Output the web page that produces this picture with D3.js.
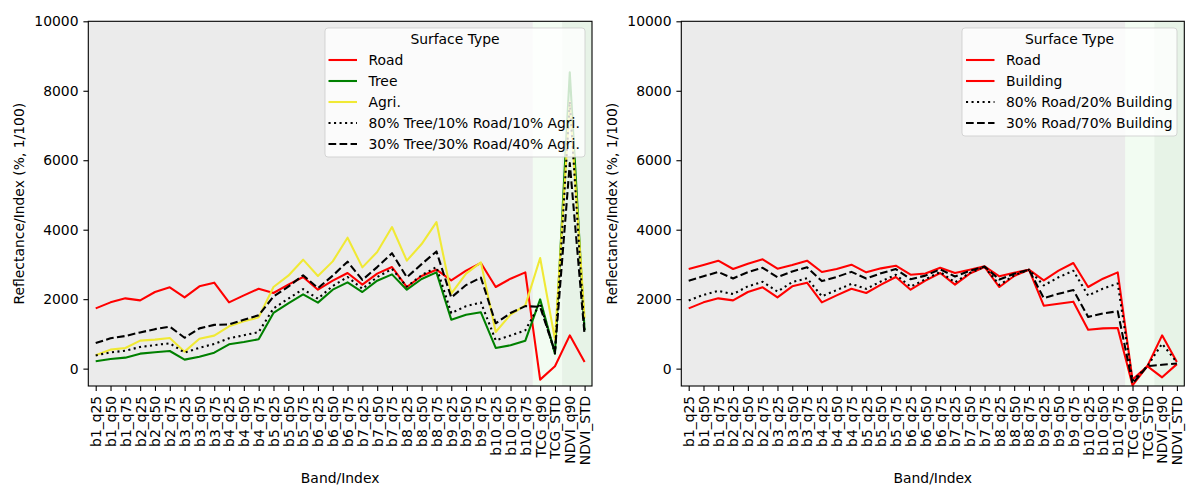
<!DOCTYPE html>
<html>
<head>
<meta charset="utf-8">
<script src="https://cdn.jsdelivr.net/npm/d3@7/dist/d3.min.js"></script>
<style>
  html, body { margin: 0; padding: 0; background: #ffffff; }
  svg { display: block; font-family: "DejaVu Sans", sans-serif; }
</style>
</head>
<body>
<svg id="chart" width="1200" height="500"></svg>
<script>
const categories = ["b1_q25","b1_q50","b1_q75","b2_q25","b2_q50","b2_q75","b3_q25","b3_q50","b3_q75",
  "b4_q25","b4_q50","b4_q75","b5_q25","b5_q50","b5_q75","b6_q25","b6_q50","b6_q75",
  "b7_q25","b7_q50","b7_q75","b8_q25","b8_q50","b8_q75","b9_q25","b9_q50","b9_q75",
  "b10_q25","b10_q50","b10_q75","TCG_q90","TCG_STD","NDVI_q90","NDVI_STD"];

const roadValues = [1735,1908,2023,1966,2206,2340,2053,2369,2475,1908,2110,2302,2178,2417,2638,2273,2532,2753,
  2417,2734,2926,2350,2667,2849,2542,2820,3040,2350,2590,2772,-317,67,959,192];
const treeValues = [211,279,316,432,470,508,259,345,460,700,767,844,1602,1880,2139,1900,2273,2484,
  2206,2532,2714,2273,2580,2772,1410,1554,1621,595,671,806,1994,432,8530,1100];
const agriValues = [384,547,595,806,835,883,489,863,950,1218,1362,1477,2350,2676,3137,2667,3088,3770,
  2916,3358,4077,3108,3587,4220,2158,2734,3060,1055,1554,1820,3185,835,7680,1450];
const tree80Values = [381,469,515,623,680,729,461,599,711,873,961,1053,1734,2013,2289,2014,2380,2639,
  2298,2635,2871,2364,2689,2925,1598,1799,1907,817,951,1104,1882,436,7688,1044];
const tree30Values = [737,875,940,1042,1137,1208,889,1159,1260,1270,1408,1535,2074,2359,2688,2319,2677,3079,
  2553,2923,3323,2630,3009,3374,2049,2406,2622,1306,1600,1801,1777,484,5919,968];

const buildingValues = [2868,2983,3108,2868,3022,3146,2878,2983,3108,2782,2868,2993,2772,2887,2964,2705,2740,2905,
  2753,2850,2945,2657,2760,2849,1813,1870,1928,1122,1160,1170,-480,70,-250,130];
const road80Values = [1962,2123,2240,2146,2369,2501,2218,2492,2602,2083,2262,2440,2297,2511,2703,2359,2574,2783,
  2484,2757,2930,2411,2686,2849,2396,2630,2818,2104,2304,2452,-350,68,717,180];
const road30Values = [2528,2660,2783,2597,2777,2904,2631,2799,2918,2520,2641,2786,2594,2746,2866,2575,2678,2859,
  2652,2815,2939,2565,2732,2849,2032,2155,2262,1490,1589,1651,-431,69,113,149];

const yTicks = [0, 2000, 4000, 6000, 8000, 10000];
const yDomain = [-500, 10000];
const shadedSpans = [
  { from: "TCG_q90", to: "TCG_STD", color: "#f2fcf2" },
  { from: "NDVI_q90", to: "NDVI_STD", color: "#e7f3e7" }
];

const DOT = "2.08,3.44";
const DASH = "7.7,3.33";
const leftSeries = [
  { name: "Road", values: roadValues, color: "#ff0000", dash: null },
  { name: "Tree", values: treeValues, color: "#008000", dash: null },
  { name: "Agri.", values: agriValues, color: "#f0e935", dash: null },
  { name: "80% Tree/10% Road/10% Agri.", values: tree80Values, color: "#000000", dash: DOT },
  { name: "30% Tree/30% Road/40% Agri.", values: tree30Values, color: "#000000", dash: DASH }
];
const rightSeries = [
  { name: "Road", values: roadValues, color: "#ff0000", dash: null },
  { name: "Building", values: buildingValues, color: "#ff0000", dash: null },
  { name: "80% Road/20% Building", values: road80Values, color: "#000000", dash: DOT },
  { name: "30% Road/70% Building", values: road30Values, color: "#000000", dash: DASH }
];

const svg = d3.select("#chart");
const FS = 13.9;
const LW = 2.08;

function drawPanel(id, left, right, top, bottom, series, legend) {
  const g = svg.append("g");
  const x = d3.scalePoint().domain(categories).range([left, right]).padding(0.5);
  const y = d3.scaleLinear().domain(yDomain).range([bottom, top]);
  const step = x.step();

  g.append("rect").attr("x", left).attr("y", top).attr("width", right - left).attr("height", bottom - top)
    .attr("fill", "#ebebeb");

  const clipId = "clip-" + id;
  svg.append("defs").append("clipPath").attr("id", clipId)
    .append("rect").attr("x", left).attr("y", top).attr("width", right - left).attr("height", bottom - top);

  shadedSpans.forEach(s => {
    const x0 = x(s.from) - step / 2, x1 = x(s.to) + step / 2;
    g.append("rect").attr("x", x0).attr("y", top).attr("width", x1 - x0).attr("height", bottom - top)
      .attr("fill", s.color).attr("clip-path", `url(#${clipId})`);
  });

  const line = d3.line().x((d, i) => x(categories[i])).y(d => y(d));
  const lg = g.append("g").attr("clip-path", `url(#${clipId})`);
  series.forEach(s => {
    lg.append("path").datum(s.values).attr("d", line)
      .attr("fill", "none").attr("stroke", s.color).attr("stroke-width", LW)
      .attr("stroke-dasharray", s.dash).attr("stroke-linejoin", "round");
  });

  const xAxis = g.append("g").attr("transform", `translate(0,${bottom})`)
    .call(d3.axisBottom(x).tickSize(4.9).tickPadding(4.9));
  xAxis.select(".domain").remove();
  xAxis.selectAll("line").attr("stroke", "#000").attr("stroke-width", 1.1);
  xAxis.selectAll("text")
    .attr("font-size", FS).attr("fill", "#000")
    .attr("font-family", "DejaVu Sans")
    .attr("transform", "rotate(-90)")
    .attr("text-anchor", "end")
    .attr("x", -9.8).attr("y", 0).attr("dy", "0.35em");

  const yAxis = g.append("g").attr("transform", `translate(${left},0)`)
    .call(d3.axisLeft(y).tickValues(yTicks).tickSize(4.9).tickPadding(4.9).tickFormat(d3.format("d")));
  yAxis.select(".domain").remove();
  yAxis.selectAll("line").attr("stroke", "#000").attr("stroke-width", 1.1);
  yAxis.selectAll("text").attr("font-size", FS).attr("fill", "#000").attr("font-family", "DejaVu Sans");

  g.append("rect").attr("x", left).attr("y", top).attr("width", right - left).attr("height", bottom - top)
    .attr("fill", "none").attr("stroke", "#000").attr("stroke-width", 1.1);

  g.append("text").attr("x", (left + right) / 2).attr("y", 483).attr("text-anchor", "middle")
    .attr("font-size", FS).attr("fill", "#000").text("Band/Index");
  g.append("text").attr("transform", `translate(${left - 64},${(top + bottom) / 2}) rotate(-90)`)
    .attr("text-anchor", "middle").attr("font-size", FS).attr("fill", "#000")
    .text("Reflectance/Index (%, 1/100)");

  const L = legend;
  const lgd = g.append("g");
  lgd.append("rect").attr("x", L.x0).attr("y", L.y0).attr("width", L.x1 - L.x0).attr("height", L.y1 - L.y0)
    .attr("rx", 3).attr("fill", "#ffffff").attr("fill-opacity", 0.8)
    .attr("stroke", "#cccccc").attr("stroke-opacity", 0.8).attr("stroke-width", 1);
  lgd.append("text").attr("x", (L.x0 + L.x1) / 2).attr("y", L.y0 + 11).attr("dy", "0.35em")
    .attr("text-anchor", "middle").attr("font-size", FS).attr("fill", "#000").text("Surface Type");
  series.forEach((s, i) => {
    const yy = L.y0 + 32 + i * 21;
    lgd.append("line").attr("x1", L.hx).attr("x2", L.hx + 28.5).attr("y1", yy).attr("y2", yy)
      .attr("stroke", s.color).attr("stroke-width", LW).attr("stroke-dasharray", s.dash);
    lgd.append("text").attr("x", L.hx + 40).attr("y", yy).attr("dy", "0.35em")
      .attr("font-size", FS).attr("fill", "#000").text(s.name);
  });
}

drawPanel("left", 88.3, 592, 21.3, 386, leftSeries, { x0: 325, x1: 585, y0: 28, y1: 157, hx: 328.5 });
drawPanel("right", 681.3, 1184.3, 21.3, 386, rightSeries, { x0: 962, x1: 1177, y0: 28, y1: 136, hx: 966 });
</script>
</body>
</html>
